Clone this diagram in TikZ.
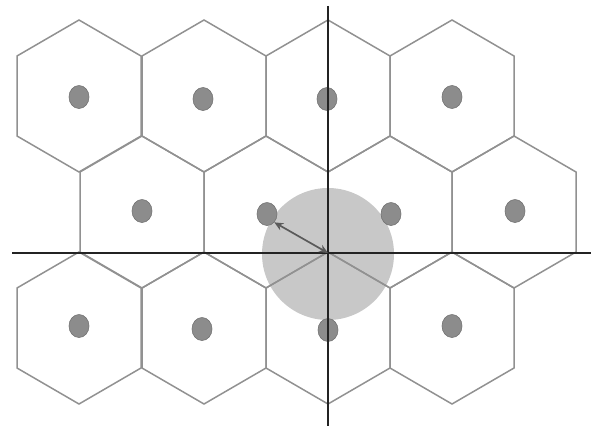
\documentclass[tikz,border=0pt]{standalone}
\usetikzlibrary{arrows.meta,shapes.geometric}
\definecolor{hexline}{RGB}{145,145,145}
\definecolor{dotfill}{RGB}{140,140,140}
\definecolor{dotline}{RGB}{115,115,115}
\definecolor{circfill}{RGB}{200,200,200}
\definecolor{axiscol}{RGB}{35,35,35}
\definecolor{arrowcol}{RGB}{90,90,90}
\tikzset{
  hexcell/.style={draw=hexline, line width=1.5pt, line join=miter},
  userdot/.style={ellipse, draw=dotline, fill=dotfill, line width=0.6pt, minimum width=20pt, minimum height=23pt, inner sep=0pt},
  axisline/.style={draw=axiscol, line width=1.1pt},
  radiusarrow/.style={draw=arrowcol, line width=1.7pt, {Stealth[length=9pt,width=8pt]}-{Stealth[length=9pt,width=8pt]}},
  zone/.style={fill=circfill, draw=none}
}
\begin{document}
\begin{tikzpicture}[x=1pt,y=-1pt]
\useasboundingbox (0,0) rectangle (593,428);
% gray zone
\fill[zone] (328,254) circle (66);
% hexagons
\foreach \cx/\cy in {79/96,204/96,328/96,452/96,142/212,266/212,390/212,514/212,79/328,204/328,328/328,452/328}{
  \draw[hexcell] (\cx,\cy-76) -- (\cx+62,\cy-40) -- (\cx+62,\cy+40) -- (\cx,\cy+76) -- (\cx-62,\cy+40) -- (\cx-62,\cy-40) -- cycle;
}
% dots
\node[userdot] (d1) at (79,97) {};
\node[userdot] (d2) at (203,99) {};
\node[userdot] (d3) at (327,99) {};
\node[userdot] (d4) at (452,97) {};
\node[userdot] (d5) at (142,211) {};
\node[userdot] (d6) at (267,214) {};
\node[userdot] (d7) at (391,214) {};
\node[userdot] (d8) at (515,211) {};
\node[userdot] (d9) at (79,326) {};
\node[userdot] (d10) at (202,329) {};
\node[userdot] (d11) at (328,330) {};
\node[userdot] (d12) at (452,326) {};
% axes
\coordinate (vt) at (328,6);
\coordinate (vb) at (328,426);
\coordinate (hl) at (12,253);
\coordinate (hr) at (591,253);
\coordinate (o) at (328,253);
\draw[axisline] (vt) -- (vb);
\draw[axisline] (hl) -- (hr);
% radius arrow
\draw[radiusarrow] (o) -- (d6.south east);
\end{tikzpicture}
\end{document}
